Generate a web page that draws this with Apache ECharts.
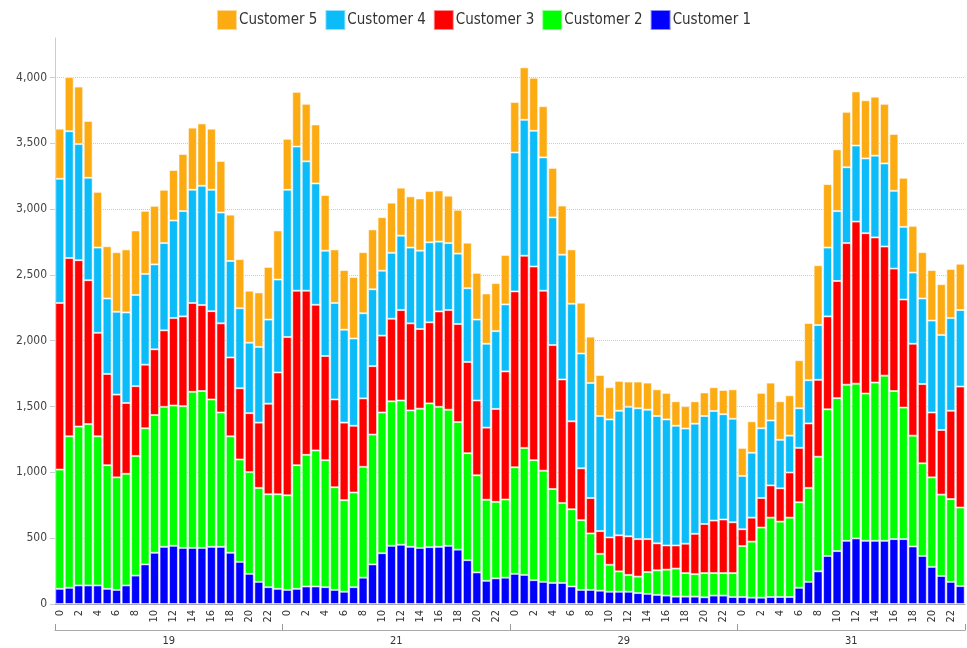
<!DOCTYPE html>
<html lang="en">
<head>
    <meta charset="UTF-8">
    <title>Customers by hour</title>
    <script src="https://cdn.jsdelivr.net/npm/echarts@6/dist/echarts.min.js"></script>
    <style>
        body { margin: 0; background: #fff; }
        #main { width: 967px; height: 648px; }
    </style>
</head>
<body>
    <div id="main"></div>
    <script>
        // day groups and the hours inside each day
        const days = ['19', '21', '29', '31'];
        const hours = [0, 1, 2, 3, 4, 5, 6, 7, 8, 9, 10, 11, 12, 13, 14, 15, 16, 17, 18, 19, 20, 21, 22, 23];

        // values per hour, days 19 / 21 / 29 / 31 one after another
        const customer1 = [
            115, 123, 141, 141, 141, 115, 107, 141, 216, 301, 389, 434, 442, 426, 426, 426, 434, 434, 389, 320, 229, 168, 128, 115,
            107, 115, 133, 133, 128, 107, 93, 128, 200, 301, 386, 442, 450, 434, 426, 432, 434, 442, 413, 333, 240, 176, 195, 200,
            229, 221, 181, 168, 160, 160, 133, 107, 107, 101, 93, 93, 93, 83, 77, 69, 64, 56, 56, 56, 51, 64, 64, 53,
            53, 48, 48, 53, 53, 53, 123, 168, 248, 365, 402, 480, 498, 480, 480, 480, 493, 493, 437, 365, 282, 213, 168, 136
        ];
        const customer2 = [
            906, 1151, 1207, 1226, 1133, 940, 855, 848, 909, 1034, 1047, 1064, 1066, 1077, 1186, 1192, 1120, 1021, 885, 778, 773, 714, 706, 719,
            719, 940, 1000, 1034, 965, 780, 696, 719, 842, 986, 1069, 1098, 1096, 1037, 1058, 1092, 1064, 1034, 970, 813, 738, 616, 581, 594,
            810, 965, 912, 845, 714, 608, 587, 530, 429, 280, 205, 155, 128, 125, 166, 187, 197, 213, 179, 171, 184, 171, 171, 182,
            387, 426, 533, 603, 573, 603, 650, 714, 871, 1114, 1162, 1186, 1176, 1119, 1202, 1255, 1125, 999, 842, 704, 680, 618, 629, 597
        ];
        const customer3 = [
            1266, 1354, 1264, 1093, 786, 693, 629, 538, 530, 483, 499, 581, 664, 682, 675, 653, 671, 677, 599, 541, 448, 496, 688, 925,
            1202, 1325, 1247, 1106, 791, 667, 589, 507, 520, 520, 584, 627, 687, 661, 605, 616, 725, 757, 744, 693, 568, 548, 706, 973,
            1336, 1460, 1471, 1367, 1093, 938, 668, 394, 269, 173, 208, 274, 293, 285, 250, 205, 184, 176, 223, 306, 373, 399, 407, 386,
            128, 182, 224, 245, 253, 343, 413, 490, 584, 706, 890, 1076, 1231, 1218, 1103, 981, 930, 821, 698, 602, 493, 491, 671, 919
        ];
        const customer4 = [
            943, 964, 882, 778, 648, 573, 629, 688, 693, 690, 645, 663, 741, 800, 860, 906, 922, 842, 733, 608, 535, 575, 639, 706,
            1119, 1095, 983, 922, 800, 733, 706, 663, 647, 584, 493, 501, 565, 576, 595, 608, 530, 509, 535, 560, 615, 637, 591, 509,
            1055, 1032, 1031, 1013, 970, 948, 893, 872, 874, 874, 896, 946, 984, 994, 983, 967, 957, 909, 875, 837, 820, 832, 800, 786,
            405, 493, 530, 493, 368, 280, 301, 328, 416, 523, 531, 576, 578, 568, 621, 631, 591, 552, 541, 650, 698, 722, 704, 581
        ];
        const customer5 = [
            381, 411, 437, 432, 423, 397, 453, 479, 490, 479, 445, 405, 384, 434, 472, 474, 464, 392, 352, 373, 395, 414, 400, 373,
            387, 416, 437, 448, 423, 407, 453, 467, 464, 455, 407, 381, 365, 389, 397, 389, 389, 360, 333, 346, 355, 382, 365, 376,
            384, 399, 403, 389, 376, 373, 413, 386, 352, 312, 245, 227, 192, 203, 206, 203, 202, 186, 170, 170, 179, 181, 184, 224,
            213, 239, 269, 288, 293, 307, 365, 435, 455, 482, 469, 421, 411, 442, 448, 453, 432, 373, 355, 352, 384, 386, 373, 352
        ];

        const seriesNames = ['Customer 1', 'Customer 2', 'Customer 3', 'Customer 4', 'Customer 5'];
        const seriesColors = ['#0000ff', '#00ff00', '#ff0000', '#0bbcf8', '#fdab12'];
        const seriesValues = [customer1, customer2, customer3, customer4, customer5];

        // one category per day/hour pair
        const categories = [];
        days.forEach(d => hours.forEach(h => categories.push(d + '-' + h)));

        const font = '"DejaVu Sans Condensed", "DejaVu Sans", sans-serif';

        const chart = echarts.init(document.getElementById('main'));
        chart.setOption({
            animation: false,
            legend: {
                top: 4,
                left: 'center',
                icon: 'rect',
                itemWidth: 20,
                itemHeight: 20,
                itemGap: 7,
                data: seriesNames.slice().reverse(),
                textStyle: { fontFamily: font, fontSize: 15, color: '#333', padding: [0, 0, 0, -3] }
            },
            grid: { left: 55, right: 2, top: 38, bottom: 44 },
            xAxis: [
                {
                    type: 'category',
                    data: categories,
                    axisLine: { lineStyle: { color: '#aaa' } },
                    axisTick: { alignWithLabel: true, interval: 1, length: 4, lineStyle: { color: '#aaa' } },
                    axisLabel: {
                        interval: 1,
                        rotate: 90,
                        margin: 6,
                        fontFamily: font,
                        fontSize: 11,
                        color: '#333',
                        formatter: v => v.split('-')[1]
                    }
                },
                {
                    type: 'category',
                    data: days,
                    position: 'bottom',
                    offset: 26,
                    axisLine: { show: true, lineStyle: { color: '#aaa' } },
                    axisTick: { show: true, inside: true, interval: 0, alignWithLabel: false, length: 6, lineStyle: { color: '#999' } },
                    axisLabel: { margin: 6, fontFamily: font, fontSize: 11, color: '#333' }
                }
            ],
            yAxis: {
                type: 'value',
                min: 0,
                max: 4300,
                interval: 500,
                axisLine: { show: true, lineStyle: { color: '#c8ccd4' } },
                axisTick: { show: true, length: 5, lineStyle: { color: '#c8ccd4' } },
                axisLabel: {
                    showMaxLabel: false,
                    margin: 8,
                    fontFamily: font,
                    fontSize: 12,
                    color: '#444',
                    formatter: v => v.toLocaleString('en-US')
                },
                splitLine: { showMaxLine: false, lineStyle: { color: '#ccc', type: 'dotted' } }
            },
            series: seriesNames.map((name, i) => ({
                name: name,
                type: 'bar',
                stack: 'total',
                xAxisIndex: 0,
                barCategoryGap: '6%',
                data: seriesValues[i],
                itemStyle: {
                    color: seriesColors[i],
                    borderColor: 'rgba(255,255,255,0.55)',
                    borderWidth: 1
                }
            }))
        });
    </script>
</body>
</html>
